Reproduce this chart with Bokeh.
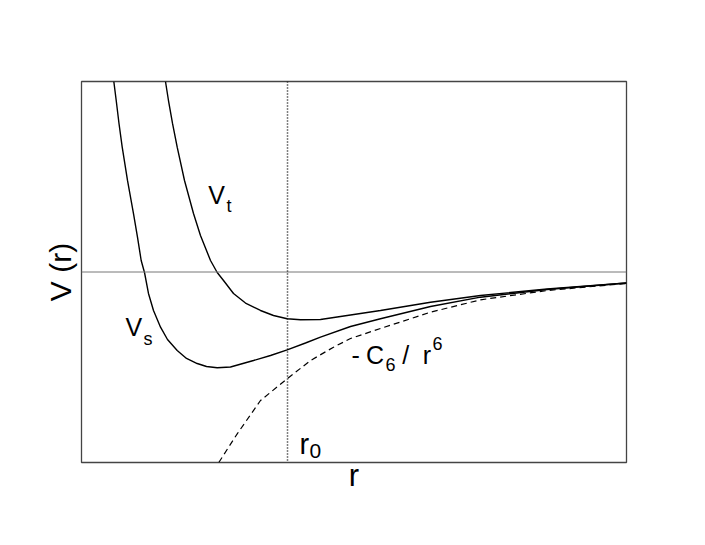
from bokeh.plotting import figure
from bokeh.models import Span, Label, Range1d, LinearAxis, FixedTicker
from bokeh.embed import file_html
from bokeh.resources import INLINE

# --- data (arbitrary units) ---
vs_r = [0.593, 0.637, 0.688, 0.747, 0.844, 0.954, 1.028, 1.095, 1.156, 1.229, 1.321, 1.450, 1.578,
        1.756, 1.927, 2.123, 2.294, 2.490, 2.734, 3.156, 3.468, 3.774, 4.110, 4.385, 4.936, 5.486,
        6.404, 7.321, 8.545, 10.0]
vs_v = [5.000, 4.501, 3.898, 3.276, 2.402, 1.535, 0.906, 0.302, -0.013, -0.564, -1.010, -1.449, -1.772,
        -2.060, -2.270, -2.402, -2.480, -2.514, -2.493, -2.323, -2.192, -2.042, -1.864, -1.711, -1.430, -1.228,
        -0.906, -0.661, -0.459, -0.289]

vt_r = [1.541, 1.596, 1.670, 1.756, 1.890, 2.055, 2.183, 2.367, 2.490, 2.606, 2.789, 3.009, 3.284,
        3.523, 3.774, 4.018, 4.385, 4.936, 5.486, 6.404, 7.321, 8.545, 10.0]
vt_v = [5.000, 4.501, 3.898, 3.276, 2.402, 1.535, 0.958, 0.302, -0.013, -0.223, -0.564, -0.814, -1.010,
        -1.142, -1.228, -1.255, -1.247, -1.129, -1.010, -0.793, -0.617, -0.446, -0.289]

c6_r = [2.519, 2.857, 3.284, 3.774, 4.202, 4.624, 4.936, 5.486, 6.404, 7.321, 8.545, 10.0]
c6_v = [-5.0, -4.247, -3.373, -2.803, -2.323, -1.974, -1.745, -1.483, -1.055, -0.730, -0.486, -0.302]

r0 = 3.78
FONT = "Liberation Sans"

p = figure(width=704, height=544, output_backend="svg", toolbar_location=None,
           x_axis_type=None, y_axis_type=None,
           x_range=Range1d(0, 10), y_range=Range1d(-5, 5),
           min_border_left=81, min_border_right=78, min_border_top=81, min_border_bottom=82)
p.xgrid.visible = False
p.ygrid.visible = False
p.outline_line_color = "#444444"
p.outline_line_width = 1.3
p.background_fill_color = "white"
p.border_fill_color = "white"

def bare_axis(label, standoff, size):
    ax = LinearAxis(ticker=FixedTicker(ticks=[]), axis_label=label,
                    axis_label_text_font=FONT, axis_label_text_font_size=f"{size}px",
                    axis_label_text_font_style="normal", axis_label_text_color="black",
                    axis_label_standoff=standoff, major_label_standoff=0,
                    major_tick_in=0, major_tick_out=0, minor_tick_in=0, minor_tick_out=0,
                    axis_line_color=None)
    return ax

p.add_layout(bare_axis("r", -5, 31), "below")
p.add_layout(bare_axis("V (r)", 5, 30), "left")

p.add_layout(Span(location=0, dimension="width", line_color="#777777", line_width=1))
p.add_layout(Span(location=r0, dimension="height", line_color="black", line_width=1.5, line_dash="1 2"))

p.line(vs_r, vs_v, line_color="black", line_width=1.4)
p.line(vt_r, vt_v, line_color="black", line_width=1.4)
p.line(c6_r, c6_v, line_color="black", line_width=1.2, line_dash="6 4")

DY = 0.236  # baseline correction

def lab(x, y, t, size):
    p.add_layout(Label(x=x, y=y + DY, text=t, text_font=FONT, text_font_size=f"{size}px",
                       text_color="black", text_baseline="alphabetic", text_align="left"))

# curve labels
lab(2.325, 1.790, "V", 25)
lab(2.659, 1.501, "t", 18)
lab(0.807, -1.667, "V", 25)
lab(1.138, -2.000, "s", 18)
lab(4.954, -2.409, "-", 25)
lab(5.220, -2.409, "C", 25)
lab(5.578, -2.672, "6", 18)
lab(5.884, -2.409, "/", 25)
lab(6.260, -2.409, "r", 25)
lab(6.440, -2.105, "6", 18)
lab(4.000, -4.738, "r", 29)
lab(4.183, -4.929, "0", 21)

open("out.html", "w").write(file_html(p, INLINE))
